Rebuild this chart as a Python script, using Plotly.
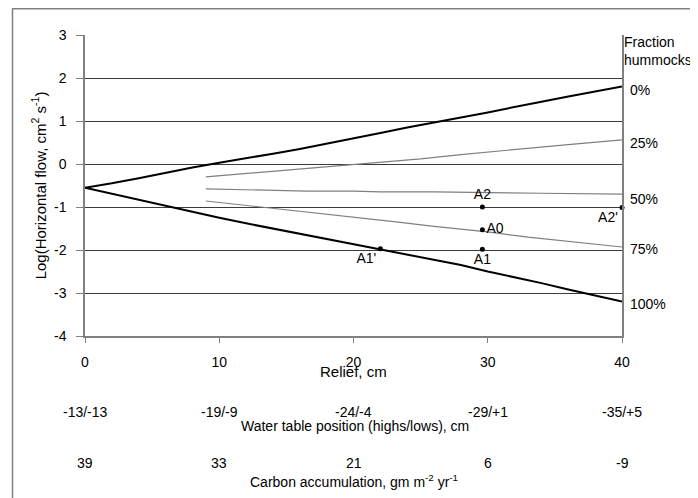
import plotly.graph_objects as go

# ---- data ----
relief_full = [0, 2, 4, 6, 8, 10, 12, 14, 16, 18, 20, 22, 24, 26, 28, 30, 32, 34, 36, 38, 40]
flow_0pct = [-0.55, -0.45, -0.33, -0.2, -0.08, 0.03, 0.13, 0.24, 0.35, 0.47, 0.6, 0.72, 0.85, 0.96, 1.08, 1.2, 1.33, 1.45, 1.57, 1.68, 1.8]
flow_100pct = [-0.55, -0.69, -0.84, -0.98, -1.12, -1.25, -1.38, -1.5, -1.62, -1.74, -1.86, -1.98, -2.1, -2.22, -2.35, -2.5, -2.63, -2.77, -2.92, -3.06, -3.2]

relief_25 = [9, 12, 15, 18, 20, 22, 25, 28, 30, 33, 36, 40]
flow_25pct = [-0.3, -0.22, -0.14, -0.06, 0.0, 0.05, 0.12, 0.22, 0.28, 0.36, 0.45, 0.56]
relief_50 = [9, 12, 16.5, 20, 22, 26, 30, 34, 40]
flow_50pct = [-0.58, -0.6, -0.63, -0.63, -0.65, -0.65, -0.67, -0.68, -0.7]
relief_75 = [9, 12, 15, 18, 20, 23, 26, 30, 33, 36, 40]
flow_75pct = [-0.86, -0.96, -1.06, -1.17, -1.24, -1.34, -1.45, -1.58, -1.7, -1.8, -1.93]

point_names = ["A2", "A0", "A1", "A1'", "A2'"]
point_x = [29.6, 29.6, 29.6, 22.0, 40.0]
point_y = [-1.0, -1.53, -1.98, -1.97, -1.01]
point_textpos = ["top center", "middle right", "bottom center", "bottom left", "bottom left"]

fraction_labels = ["0%", "25%", "50%", "75%", "100%"]
fraction_label_y = [1.72, 0.49, -0.81, -1.98, -3.26]

y_ticks = [3, 2, 1, 0, -1, -2, -3, -4]
y_tick_labels = ["3", "2", "1", "0", "-1", "-2", "-3", "-4"]
relief_ticks = [0, 10, 20, 30, 40]
water_table_labels = ["-13/-13", "-19/-9", "-24/-4", "-29/+1", "-35/+5"]
carbon_labels = ["39", "33", "21", "6", "-9"]

FONT = "Arial, Liberation Sans, sans-serif"
BODY = 8  # default page margin around the figure

fig = go.Figure()
fig.add_trace(go.Scatter(x=relief_full, y=flow_0pct, mode="lines",
                         line=dict(color="black", width=2), showlegend=False))
fig.add_trace(go.Scatter(x=relief_full, y=flow_100pct, mode="lines",
                         line=dict(color="black", width=2), showlegend=False))
for xs, ys in [(relief_25, flow_25pct), (relief_50, flow_50pct), (relief_75, flow_75pct)]:
    fig.add_trace(go.Scatter(x=xs, y=ys, mode="lines",
                             line=dict(color="#7f7f7f", width=1.2), showlegend=False))
fig.add_trace(go.Scatter(x=point_x, y=point_y, mode="markers+text", text=point_names,
                         textposition=point_textpos, cliponaxis=False,
                         marker=dict(color="black", size=5),
                         textfont=dict(size=14, color="black", family=FONT),
                         showlegend=False))

H = 301.0  # plot height in px
W = 537.0  # plot width in px


def py(px):
    # page pixel y -> paper y
    return (336 - px) / H


def pxp(px):
    # page pixel x -> paper x
    return (px - 85) / W


annotations = []
annotations.append(dict(x=1, y=py(51.5), xref="paper", yref="paper", xanchor="left", yanchor="middle",
                        xshift=0, align="left", showarrow=False,
                        text="Fraction<br>hummocks", font=dict(size=14, family=FONT, color="black")))
for lab, yy in zip(fraction_labels, fraction_label_y):
    annotations.append(dict(x=1, y=yy, xref="paper", yref="y", xanchor="left", yanchor="middle",
                            xshift=6, showarrow=False, text=lab,
                            font=dict(size=14, family=FONT, color="black")))

for xv, lab in zip(relief_ticks, water_table_labels):
    annotations.append(dict(x=xv, y=py(412), xref="x", yref="paper", xanchor="center", yanchor="middle",
                            showarrow=False, text=lab, font=dict(size=14, family=FONT, color="black")))
for xv, lab in zip(relief_ticks, carbon_labels):
    annotations.append(dict(x=xv, y=py(463), xref="x", yref="paper", xanchor="center", yanchor="middle",
                            showarrow=False, text=lab, font=dict(size=14, family=FONT, color="black")))
annotations.append(dict(x=20, y=py(372), xref="x", yref="paper", xanchor="center", yanchor="middle",
                        showarrow=False, text="Relief, cm", font=dict(size=15, family=FONT, color="black")))
annotations.append(dict(x=20.1, y=py(426), xref="x", yref="paper", xanchor="center", yanchor="middle",
                        showarrow=False, text="Water table position (highs/lows), cm",
                        font=dict(size=14, family=FONT, color="black")))
annotations.append(dict(x=20, y=py(481), xref="x", yref="paper", xanchor="center", yanchor="middle",
                        showarrow=False, text="Carbon accumulation, gm m<sup>-2</sup> yr<sup>-1</sup>",
                        font=dict(size=14, family=FONT, color="black")))

shapes = [
    dict(type="line", xref="paper", yref="paper", x0=pxp(12), x1=pxp(700),
         y0=py(8.8), y1=py(8.8), line=dict(color="#808080", width=1.5)),
    dict(type="line", xref="paper", yref="paper", x0=pxp(12.5), x1=pxp(12.5),
         y0=py(8.8), y1=py(500), line=dict(color="#808080", width=1.5)),
]

fig.update_layout(
    width=698 - BODY, height=498 - BODY,
    margin=dict(l=85 - BODY, r=76, t=35 - BODY, b=162),
    paper_bgcolor="white", plot_bgcolor="white",
    font=dict(family=FONT, size=14, color="black"),
    annotations=annotations, shapes=shapes,
    xaxis=dict(range=[0, 40], tickvals=relief_ticks, ticks="outside", ticklen=5,
               tickcolor="#808080", showline=True, linecolor="#808080", linewidth=1.5,
               showgrid=False, zeroline=False, ticklabelstandoff=7,
               tickfont=dict(size=14, family=FONT, color="black")),
    yaxis=dict(range=[-4, 3], tickvals=y_ticks, ticktext=y_tick_labels,
               ticks="outside", ticklen=7, tickcolor="#808080",
               showline=True, linecolor="#808080", linewidth=1.5, mirror=True,
               showgrid=True, gridcolor="#3a3a3a", gridwidth=1, zeroline=False,
               ticklabelstandoff=7,
               tickfont=dict(size=14, family=FONT, color="black"),
               title=dict(text="Log(Horizontal flow, cm<sup>2</sup> s<sup>-1</sup>)",
                          font=dict(size=15, family=FONT, color="black"), standoff=4)),
)

fig.write_html("out.html")
